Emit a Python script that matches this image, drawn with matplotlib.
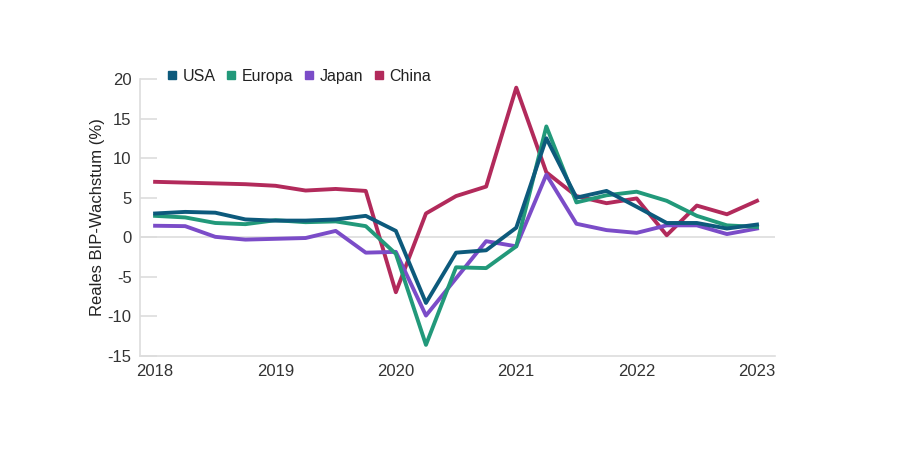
import matplotlib.pyplot as plt
import numpy as np

# quarterly real GDP growth, 2018 Q1 .. 2023 Q1
years = [2018, 2019, 2020, 2021, 2022, 2023]
usa = [3.0, 3.2, 3.1, 2.25, 2.1, 2.1, 2.25, 2.7, 0.8, -8.3, -1.95, -1.65, 1.2,
       12.5, 5.0, 5.85, 3.85, 1.8, 1.8, 1.1, 1.6]
europa = [2.7, 2.5, 1.8, 1.65, 2.15, 1.9, 2.0, 1.4, -2.1, -13.6, -3.8, -3.9, -1.15,
          14.0, 4.4, 5.3, 5.75, 4.6, 2.7, 1.5, 1.3]
japan = [1.45, 1.4, 0.05, -0.3, -0.2, -0.1, 0.8, -1.95, -1.85, -9.9, -5.2, -0.5, -1.15,
         7.9, 1.7, 0.9, 0.55, 1.5, 1.5, 0.4, 1.1]
china = [7.0, 6.9, 6.8, 6.7, 6.5, 5.9, 6.1, 5.85, -6.95, 3.0, 5.2, 6.4, 18.9,
         8.2, 5.2, 4.3, 4.9, 0.25, 4.0, 2.9, 4.6]

quarters = 2018 + 0.25 * np.arange(len(usa))

plt.rcParams['font.family'] = ['Liberation Sans', 'DejaVu Sans']
plt.rcParams['axes.unicode_minus'] = False

fig = plt.figure(figsize=(9, 4.5), dpi=100)
ax = fig.add_axes([0.1556, 0.209, 0.7056, 0.6156])

lw = 2.8
l_china, = ax.plot(quarters, china, color='#b22a5b', lw=lw, label='China')
l_japan, = ax.plot(quarters, japan, color='#7b4cc8', lw=lw, label='Japan')
l_europa, = ax.plot(quarters, europa, color='#22997a', lw=lw, label='Europa')
l_usa, = ax.plot(quarters, usa, color='#0d5a7c', lw=lw, label='USA')

ax.axhline(0, color='#dddddd', lw=1.2, zorder=0)

ax.set_xlim(2017.875, 2023.15)
ax.set_ylim(-15, 20)
ax.set_yticks(np.arange(-15, 21, 5))
ax.set_xticks(years)
ax.set_xticklabels([str(y) for y in years])

for s in ['top', 'right']:
    ax.spines[s].set_visible(False)
for s in ['left', 'bottom']:
    ax.spines[s].set_color('#dddddd')
    ax.spines[s].set_linewidth(1.2)

ax.tick_params(axis='y', direction='in', length=12, width=1.2, color='#dddddd',
               pad=6, labelsize=12, labelcolor='#333333')
ax.tick_params(axis='x', length=0, pad=6, labelsize=12, labelcolor='#333333')

ax.set_ylabel('Reales BIP-Wachstum (%)', fontsize=12, color='#222222', labelpad=2)

# legend with square markers above the plot
handles = []
for line in [l_usa, l_europa, l_japan, l_china]:
    h, = ax.plot([], [], ls='none', marker='s', markersize=6,
                 color=line.get_color(), label=line.get_label())
    handles.append(h)
fig.legend(handles=handles, loc='center left', bbox_to_anchor=(0.168, 0.83),
           ncol=4, frameon=False, fontsize=11.5, handletextpad=0.25,
           columnspacing=0.6, handlelength=0.8, labelcolor='#222222')

fig.savefig('out.png', dpi=100)
